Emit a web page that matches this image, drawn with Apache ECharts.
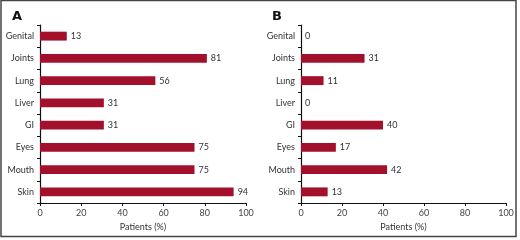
<!DOCTYPE html>
<html>
<head>
<meta charset="utf-8">
<script src="https://cdn.jsdelivr.net/npm/echarts@6/dist/echarts.min.js"></script>
<style>
  html, body { margin: 0; padding: 0; background: #fff; }
  #chart { width: 520px; height: 240px; }
</style>
</head>
<body>
<div id="chart"></div>
<script>
// categories from bottom to top (category y axis starts at the bottom)
const categories = ['Skin', 'Mouth', 'Eyes', 'GI', 'Liver', 'Lung', 'Joints', 'Genital'];
const valuesA = [94, 75, 75, 31, 31, 56, 81, 13];
const valuesB = [13, 42, 17, 40, 0, 11, 31, 0];
const xTicks = [0, 20, 40, 60, 80, 100];
const panelTitles = ['A', 'B'];
const axisName = 'Patients (%)';

const barColor = '#a3102c';
const font = 'Lato';

const myChart = echarts.init(document.getElementById('chart'));

const makeX = (idx) => ({
    type: 'value',
    gridIndex: idx,
    min: xTicks[0],
    max: xTicks[xTicks.length - 1],
    interval: 20,
    name: axisName,
    nameLocation: 'middle',
    nameGap: 20,
    nameTextStyle: { color: '#333', fontSize: 9, fontFamily: font },
    axisLine: { show: true, lineStyle: { color: '#111', width: 1.2 } },
    axisTick: { show: true, length: 3, lineStyle: { color: '#111' } },
    axisLabel: { color: '#444', fontSize: 9, fontFamily: font, margin: 6 },
    splitLine: { show: false }
});

const makeY = (idx) => ({
    type: 'category',
    gridIndex: idx,
    data: categories,
    axisLine: { show: true, lineStyle: { color: '#111', width: 1.2 } },
    axisTick: { show: true, length: 3, lineStyle: { color: '#111' } },
    axisLabel: { color: '#333', fontSize: 9, fontFamily: font, margin: 6 },
    splitLine: { show: false }
});

const makeSeries = (idx, data) => ({
    type: 'bar',
    xAxisIndex: idx,
    yAxisIndex: idx,
    data: data,
    barWidth: '40%',
    itemStyle: { color: barColor },
    label: {
        show: true,
        position: 'right',
        distance: 4,
        color: '#333',
        fontSize: 9,
        fontFamily: font
    }
});

const option = {
    animation: false,
    title: [
        { text: panelTitles[0], left: 7, top: 5, textStyle: { fontSize: 13, fontWeight: 'bold', color: '#111', fontFamily: 'DejaVu Sans' } },
        { text: panelTitles[1], left: 267, top: 5, textStyle: { fontSize: 13, fontWeight: 'bold', color: '#111', fontFamily: 'DejaVu Sans' } }
    ],
    grid: [
        { left: 40, right: 274, top: 25, bottom: 37 },
        { left: 301, right: 14, top: 25, bottom: 37 }
    ],
    xAxis: [makeX(0), makeX(1)],
    yAxis: [makeY(0), makeY(1)],
    series: [makeSeries(0, valuesA), makeSeries(1, valuesB)],
    graphic: [
        {
            type: 'rect',
            shape: { x: 1, y: 0.5, width: 515, height: 236 },
            style: { fill: 'none', stroke: '#444', lineWidth: 1.5 },
            silent: true
        }
    ]
};

myChart.setOption(option);
</script>
</body>
</html>
